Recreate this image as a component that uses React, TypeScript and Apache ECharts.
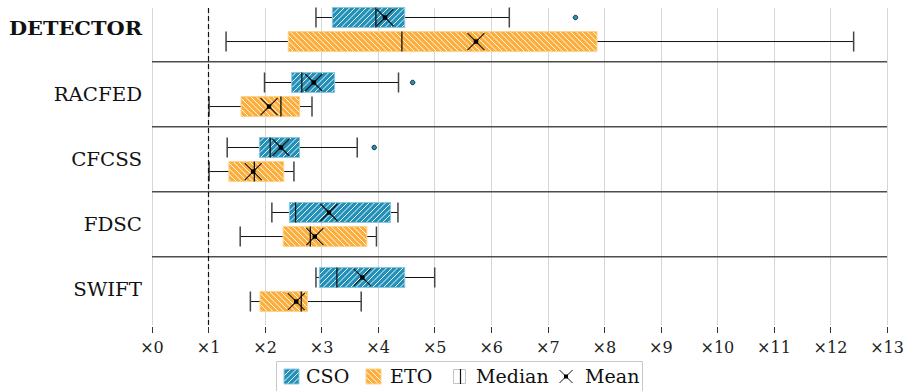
import React, { useEffect, useRef } from 'react';
import * as echarts from 'echarts';

// Techniques compared, top to bottom
const groups = ['DETECTOR', 'RACFED', 'CFCSS', 'FDSC', 'SWIFT'];

// CSO slowdown distribution (×)
const csoLow = [2.9, 1.99, 1.33, 2.12, 2.9];
const csoQ1 = [3.19, 2.47, 1.9, 2.43, 2.96];
const csoMedian = [3.96, 2.65, 2.09, 2.54, 3.27];
const csoQ3 = [4.47, 3.23, 2.61, 4.22, 4.47];
const csoHigh = [6.32, 4.36, 3.63, 4.35, 5.0];
const csoMean = [4.12, 2.86, 2.28, 3.13, 3.72];
const csoOutliers: [number, number][] = [[0, 7.49], [1, 4.61], [2, 3.93]];

// ETO slowdown distribution (×)
const etoLow = [1.31, 1.01, 1.01, 1.56, 1.74];
const etoQ1 = [2.41, 1.575, 1.36, 2.32, 1.91];
const etoMedian = [4.42, 2.28, 1.81, 2.8, 2.64];
const etoQ3 = [7.87, 2.61, 2.33, 3.8, 2.75];
const etoHigh = [12.41, 2.83, 2.51, 3.97, 3.7];
const etoMean = [5.73, 2.07, 1.79, 2.88, 2.55];

const xTicks = [0, 13];
const baselineX = 1;

const BLUE = '#2390b8';
const BLUE_EDGE = '#8cc6dc';
const ORANGE = '#fbae3c';
const ORANGE_EDGE = '#fcd28f';
const SERIF = '"DejaVu Serif", "Liberation Serif", serif';

// vertical layout of a group band (band spans 1 unit on the y scale)
const CSO_OFFSET = 0.318;
const ETO_OFFSET = 0.688;
const BOX_HALF = 0.154;
const HATCH_PERIOD = 5.5;

function hatchLines(x0: number, y0: number, x1: number, y1: number, dir: number, color: string) {
  const out: any[] = [];
  const p = HATCH_PERIOD;
  if (dir > 0) {
    // "/" lines: x + y = c
    for (let c = Math.ceil((x0 + y0) / p) * p; c <= x1 + y1; c += p) {
      const xa = Math.max(x0, c - y1);
      const xb = Math.min(x1, c - y0);
      if (xb - xa > 0.3) {
        out.push({ type: 'line', shape: { x1: xa, y1: c - xa, x2: xb, y2: c - xb }, style: { stroke: color, lineWidth: 1 } });
      }
    }
  } else {
    // "\" lines: x - y = c
    for (let c = Math.ceil((x0 - y1) / p) * p; c <= x1 - y0; c += p) {
      const xa = Math.max(x0, c + y0);
      const xb = Math.min(x1, c + y1);
      if (xb - xa > 0.3) {
        out.push({ type: 'line', shape: { x1: xa, y1: xa - c, x2: xb, y2: xb - c }, style: { stroke: color, lineWidth: 1 } });
      }
    }
  }
  return out;
}

function boxRenderer(offset: number, fill: string, edge: string, dir: number) {
  return (params: any, api: any) => {
    const yv = api.value(0) + offset;
    const pt = (i: number) => api.coord([api.value(i), yv]);
    const [xLow, yc] = pt(1);
    const xQ1 = pt(2)[0];
    const xMed = pt(3)[0];
    const xQ3 = pt(4)[0];
    const xHigh = pt(5)[0];
    const xMean = pt(6)[0];
    const h = Math.abs(api.size([0, BOX_HALF])[1]);
    const top = yc - h;
    const bot = yc + h;
    const whisker = { stroke: '#111', lineWidth: 1 };
    const cap = { stroke: '#444', lineWidth: 1.5 };
    const m = 8.5;
    return {
      type: 'group',
      children: [
        { type: 'line', shape: { x1: xLow, y1: yc, x2: xQ1, y2: yc }, style: whisker },
        { type: 'line', shape: { x1: xQ3, y1: yc, x2: xHigh, y2: yc }, style: whisker },
        { type: 'line', shape: { x1: xLow, y1: top, x2: xLow, y2: bot }, style: cap },
        { type: 'line', shape: { x1: xHigh, y1: top, x2: xHigh, y2: bot }, style: cap },
        { type: 'rect', shape: { x: xQ1, y: top, width: xQ3 - xQ1, height: bot - top }, style: { fill, stroke: edge, lineWidth: 1 } },
        ...hatchLines(xQ1 + 0.5, top + 0.5, xQ3 - 0.5, bot - 0.5, dir, 'rgba(255,255,255,0.92)'),
        { type: 'line', shape: { x1: xMed, y1: top, x2: xMed, y2: bot }, style: { stroke: '#111', lineWidth: 1.3 } },
        { type: 'line', shape: { x1: xMean - m, y1: yc - m, x2: xMean + m, y2: yc + m }, style: { stroke: '#111', lineWidth: 1.1 } },
        { type: 'line', shape: { x1: xMean - m, y1: yc + m, x2: xMean + m, y2: yc - m }, style: { stroke: '#111', lineWidth: 1.1 } },
        { type: 'rect', shape: { x: xMean - 2.2, y: yc - 2.2, width: 4.4, height: 4.4 }, style: { fill: '#000' } },
      ],
    };
  };
}

function boxData(low: number[], q1: number[], med: number[], q3: number[], high: number[], mean: number[]) {
  return groups.map((_, i) => [i, low[i], q1[i], med[i], q3[i], high[i], mean[i]]);
}

function legendGraphics() {
  const y0 = 369;
  const sw = 15;
  const ty = 377;
  const txt = (x: number, text: string) => ({
    type: 'text', x, y: ty, scaleX: 1.06,
    style: { text, fill: '#111', font: `18px ${SERIF}`, align: 'left', verticalAlign: 'middle' },
  });
  const els: any[] = [
    { type: 'rect', shape: { x: 276.5, y: 361.5, width: 366, height: 40 }, style: { fill: '#fff', stroke: '#c8c8c8', lineWidth: 1 } },
    { type: 'rect', shape: { x: 284, y: y0, width: sw, height: sw }, style: { fill: BLUE, stroke: BLUE_EDGE, lineWidth: 1 } },
    ...hatchLines(284.5, y0 + 0.5, 284 + sw - 0.5, y0 + sw - 0.5, 1, 'rgba(255,255,255,0.92)'),
    txt(306, 'CSO'),
    { type: 'rect', shape: { x: 366, y: y0, width: sw, height: sw }, style: { fill: ORANGE, stroke: ORANGE_EDGE, lineWidth: 1 } },
    ...hatchLines(366.5, y0 + 0.5, 366 + sw - 0.5, y0 + sw - 0.5, -1, 'rgba(255,255,255,0.92)'),
    txt(390, 'ETO'),
    { type: 'rect', shape: { x: 453.5, y: y0 + 0.5, width: 12, height: sw - 1 }, style: { fill: '#fff', stroke: '#c4c4c4', lineWidth: 1 } },
    { type: 'line', shape: { x1: 460.5, y1: y0, x2: 460.5, y2: y0 + sw }, style: { stroke: '#111', lineWidth: 1.2 } },
    txt(476, 'Median'),
    { type: 'line', shape: { x1: 559.5, y1: y0 + 1, x2: 572.5, y2: y0 + 14 }, style: { stroke: '#111', lineWidth: 1 } },
    { type: 'line', shape: { x1: 559.5, y1: y0 + 14, x2: 572.5, y2: y0 + 1 }, style: { stroke: '#111', lineWidth: 1 } },
    { type: 'rect', shape: { x: 564, y: y0 + 5.5, width: 4, height: 4 }, style: { fill: '#000' } },
    txt(585, 'Mean'),
  ];
  return els;
}

export default function App() {
  const ref = useRef<HTMLDivElement>(null);

  useEffect(() => {
    if (!ref.current) return;
    const chart = echarts.init(ref.current, null, { renderer: 'svg' });

    const option: any = {
      animation: false,
      backgroundColor: '#fff',
      grid: { left: 152, right: 25, top: 8, bottom: 66, containLabel: false },
      xAxis: {
        type: 'value',
        min: xTicks[0],
        max: xTicks[1],
        interval: 1,
        offset: 2,
        axisLine: { show: false },
        axisTick: { show: true, length: 6, lineStyle: { color: '#333', width: 1 } },
        splitLine: { show: true, lineStyle: { color: '#d6d6d6', width: 1 } },
        axisLabel: {
          formatter: (v: number) => '×' + v,
          fontFamily: SERIF,
          fontSize: 16,
          color: '#222',
          margin: 12,
        },
      },
      yAxis: {
        type: 'value',
        inverse: true,
        min: 0.172,
        max: 5.049,
        show: false,
      },
      series: [
        {
          // group separators and the ×1 reference
          type: 'custom',
          silent: true,
          z: 1,
          data: [1, 2, 3, 4].map((v) => [0, v]),
          encode: { x: 0, y: 1 },
          renderItem: (params: any, api: any) => {
            const a = api.coord([xTicks[0], api.value(1)]);
            const b = api.coord([xTicks[1], api.value(1)]);
            return { type: 'line', shape: { x1: a[0], y1: a[1], x2: b[0], y2: b[1] }, style: { stroke: '#4d4d4d', lineWidth: 1.5 } };
          },
          markLine: {
            silent: true,
            symbol: ['none', 'none'],
            label: { show: false },
            lineStyle: { color: '#111', type: [5, 3], width: 1.2 },
            data: [{ xAxis: baselineX }],
          },
        },
        {
          // technique labels
          type: 'custom',
          silent: true,
          data: groups.map((_, i) => [0, i]),
          encode: { x: 0, y: 1 },
          renderItem: (params: any, api: any) => {
            const i = api.value(1);
            const p = api.coord([xTicks[0], i + 0.5]);
            return {
              type: 'text',
              x: p[0] - 10,
              y: p[1],
              scaleX: i === 0 ? 1.16 : 1.1,
              style: {
                text: groups[i],
                fill: '#111',
                font: `${i === 0 ? 'bold ' : ''}18px ${SERIF}`,
                align: 'right',
                verticalAlign: 'middle',
              },
            };
          },
        },
        {
          name: 'CSO',
          type: 'custom',
          z: 3,
          data: boxData(csoLow, csoQ1, csoMedian, csoQ3, csoHigh, csoMean),
          encode: { y: 0, x: [1, 2, 3, 4, 5, 6] },
          renderItem: boxRenderer(CSO_OFFSET, BLUE, BLUE_EDGE, 1),
        },
        {
          name: 'ETO',
          type: 'custom',
          z: 3,
          data: boxData(etoLow, etoQ1, etoMedian, etoQ3, etoHigh, etoMean),
          encode: { y: 0, x: [1, 2, 3, 4, 5, 6] },
          renderItem: boxRenderer(ETO_OFFSET, ORANGE, ORANGE_EDGE, -1),
        },
        {
          name: 'CSO outliers',
          type: 'scatter',
          z: 4,
          symbol: 'circle',
          symbolSize: 4.5,
          itemStyle: { color: BLUE, borderColor: '#16303c', borderWidth: 1, opacity: 1 },
          data: csoOutliers.map(([g, v]) => [v, g + CSO_OFFSET]),
        },
      ],
      graphic: legendGraphics(),
    };

    chart.setOption(option);
    return () => chart.dispose();
  }, []);

  return (
    <div
      ref={ref}
      style={{ position: 'fixed', left: 0, top: 0, width: 912, height: 391, background: '#fff' }}
    />
  );
}
